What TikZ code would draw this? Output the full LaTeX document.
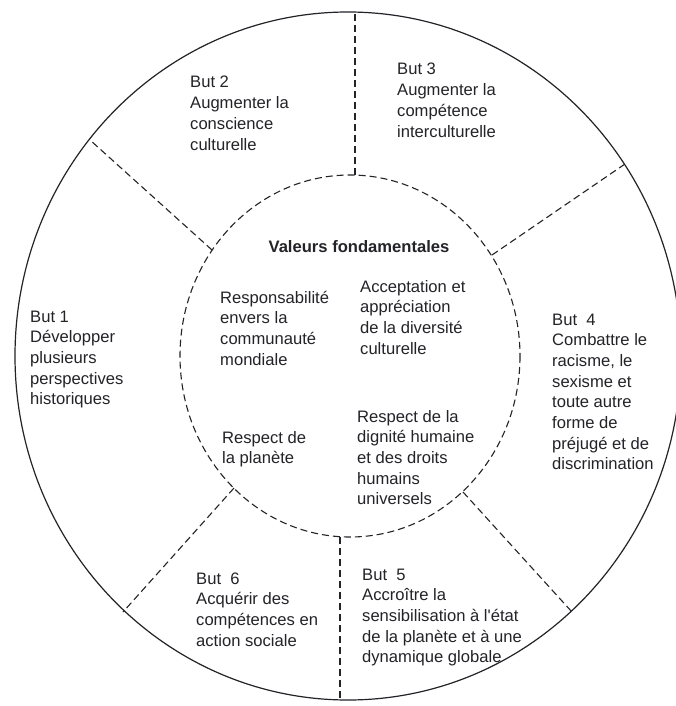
\documentclass[tikz,border=0pt]{standalone}
\usepackage{fontspec}
\setmainfont{Liberation Sans}
\definecolor{ink}{RGB}{35,35,40}
\newcommand\tb[1]{\vtop{\halign{##\hfil\cr#1\crcr}}}
\begin{document}
\begin{tikzpicture}[x=1pt,y=-1pt,
  txt/.style={anchor=base west,inner sep=0pt,text=ink,font=\fontsize{16.6}{20.7}\selectfont},
  rim/.style={draw=ink,line width=1.2pt},
  dsh/.style={draw=ink,line width=1.1pt,dash pattern=on 7pt off 4pt}]
\useasboundingbox (0,0) rectangle (675,706);
\fill[white] (0,0) rectangle (675,706);
% circles
\draw[rim] (348,356) ellipse [x radius=333, y radius=344];
\draw[dsh] (350,356) ellipse [x radius=170, y radius=181];
% end points of the radial dividers
\coordinate (o1) at (90,140);   \coordinate (i1) at (212,250);
\coordinate (o2) at (355,12);   \coordinate (i2) at (355,175);
\coordinate (o3) at (625,164);  \coordinate (i3) at (492,255);
\coordinate (o4) at (572,612);  \coordinate (i4) at (463,492);
\coordinate (o5) at (340,700);  \coordinate (i5) at (340,537);
\coordinate (o6) at (123,612);  \coordinate (i6) at (234,488);
\draw[dsh] (i1) -- (o1);
\draw[dsh] (i2) -- (o2);
\draw[dsh] (i3) -- (o3);
\draw[dsh] (i4) -- (o4);
\draw[dsh] (i5) -- (o5);
\draw[dsh] (i6) -- (o6);
% goals
\node[txt] (b2) at (190,88) {\tb{But 2\cr Augmenter la\cr conscience\cr culturelle}};
\node[txt] (b3) at (397,75) {\tb{But 3\cr Augmenter la\cr compétence\cr interculturelle}};
\node[txt] (b1) at (30,322) {\tb{But 1\cr Développer\cr plusieurs\cr perspectives\cr historiques}};
\node[txt] (b4) at (552,325) {\tb{But\ \ 4\cr Combattre le\cr racisme, le\cr sexisme et\cr toute autre\cr forme de\cr préjugé et de\cr discrimination}};
\node[txt] (b5) at (362,580) {\tb{But\ \ 5\cr Accroître la\cr sensibilisation à l\textquotesingle état\cr de la planète et à une\cr dynamique globale}};
\node[txt] (b6) at (196,584) {\tb{But\ \ 6\cr Acquérir des\cr compétences en\cr action sociale}};
% core values
\node[txt,anchor=base,font=\fontsize{16.6}{20.7}\selectfont\bfseries] (vf) at (359,252) {Valeurs fondamentales};
\node[txt] (v1) at (220,303) {\tb{Responsabilité\cr envers la\cr communauté\cr mondiale}};
\node[txt] (v2) at (360,292) {\tb{Acceptation et\cr appréciation\cr de la diversité\cr culturelle}};
\node[txt] (v3) at (222,443) {\tb{Respect de\cr la planète}};
\node[txt] (v4) at (357,422) {\tb{Respect de la\cr dignité humaine\cr et des droits\cr humains\cr universels}};
\end{tikzpicture}
\end{document}
